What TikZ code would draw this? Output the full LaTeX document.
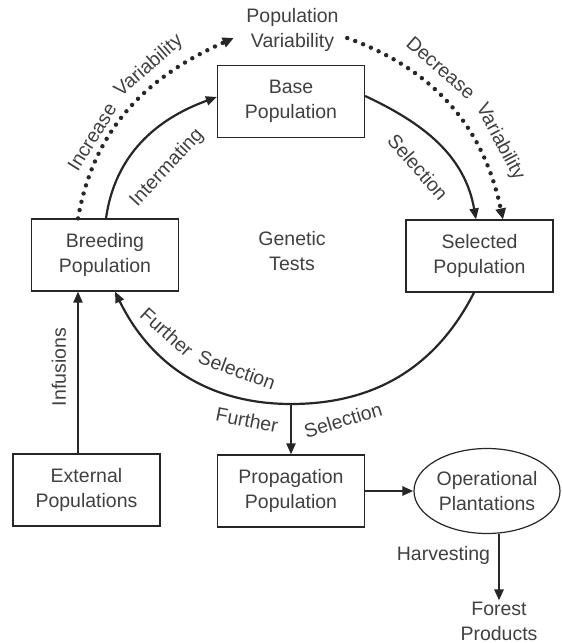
\documentclass[tikz,border=0pt]{standalone}
\usepackage{fontspec}
\setmainfont{Liberation Sans}
\usetikzlibrary{arrows.meta, positioning, shapes.geometric}

\begin{document}
\begin{tikzpicture}[x=1pt, y=1pt, font=\fontsize{19.5}{25}\selectfont, text=black!75, draw=black!85,
   box/.style={draw, line width=1.2pt, minimum width=147pt, minimum height=72pt, align=center},
   lbl/.style={inner sep=1pt, align=center},
   arr/.style={draw, line width=2.2pt, -{Triangle[length=11pt, width=9pt]}},
   dots/.style={draw, line width=4.4pt, line cap=round, dash pattern=on 0pt off 8.5pt,
     -{Triangle[length=11pt, width=10pt]}}]
  \useasboundingbox (0,0) rectangle (562,643);
  \node[box] (base) at (291,541.5) {Base\\Population};
  \node[box] (breed) at (105,388) {Breeding\\Population};
  \node[box] (sel) at (479.5,387) {Selected\\Population};
  \node[box] (ext) at (86.5,153) {External\\Populations};
  \node[box] (prop) at (291,152) {Propagation\\Population};
  \node[box, ellipse, minimum width=146pt, minimum height=85pt, inner sep=0pt] (oper) at (487,152) {Operational\\Plantations};
  \node[lbl] (gen) at (292,392) {Genetic\\Tests};
  \node[lbl] (pv) at (292.5,613) {Population\\Variability};
  \node[lbl] (fp) at (499,22) {Forest\\Products};
  \coordinate (low) at (291,239);

  % the breeding cycle
  \draw[arr] ([xshift=1pt]breed.north) to[out=82,in=200] ([yshift=4.5pt]base.west);
  \draw[arr] ([yshift=5.5pt]base.east) to[out=-25,in=100] ([xshift=-3.5pt]sel.north);
  \draw[arr] ([xshift=-5.5pt]sel.south) to[out=-117,in=0] (low) to[out=180,in=-64] ([xshift=10pt]breed.south);
  \draw[arr] (low) -- (prop.north);
  \draw[arr] ([xshift=-8.5pt]ext.north) -- ([xshift=-27pt]breed.south);
  \draw[arr, line width=2.6pt] (prop.east) -- (oper.west);
  \draw[arr, line width=2.6pt] ([xshift=12pt]oper.south) -- (fp.north);
  % variability
  \draw[dots] ([xshift=-27pt]breed.north) to[out=80,in=204] ([xshift=-11.5pt,yshift=-8pt]pv.west);
  \draw[dots] ([xshift=7.5pt,yshift=-8pt]pv.east) to[out=-20,in=102] ([xshift=23.5pt]sel.north);

  \node[lbl, rotate=58] (incr) at (92,506) {Increase};
  \node[lbl, rotate=41] (varl) at (149,577) {Variability};
  \node[lbl, rotate=47] (inter) at (167,475) {Intermating};
  \node[lbl, rotate=-41] (decr) at (441,575) {Decrease};
  \node[lbl, rotate=-62] (varr) at (500,501) {Variability};
  \node[lbl, rotate=-49] (sela) at (418,476) {Selection};
  \node[lbl, rotate=-42] (fura) at (167,311) {Further};
  \node[lbl, rotate=-20] (selb) at (237,273) {Selection};
  \node[lbl, rotate=-11] (furb) at (247,223) {Further};
  \node[lbl, rotate=17] (selc) at (343,223) {Selection};
  \node[lbl, rotate=90] (inf) at (59,276) {Infusions};
  \node[lbl] (harv) at (443.5,88) {Harvesting};
\end{tikzpicture}
\end{document}
